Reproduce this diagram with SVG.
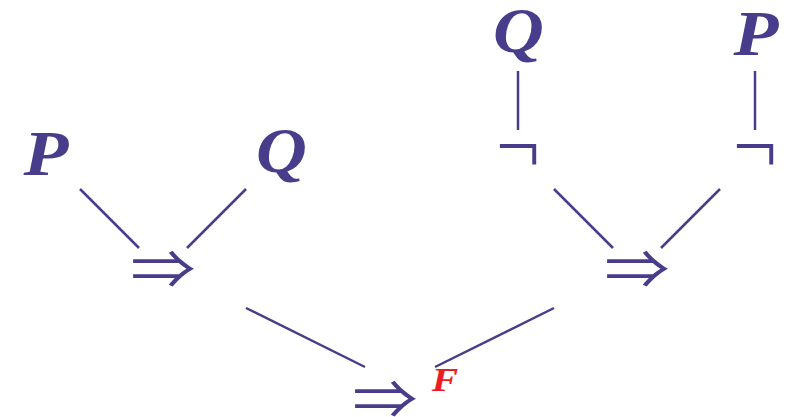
<svg xmlns="http://www.w3.org/2000/svg" width="792" height="417" viewBox="0 0 792 417">
<style>
.v{font-family:"Liberation Serif","DejaVu Serif",serif;font-weight:bold;font-style:italic;font-size:64px;fill:#483D8B;text-anchor:middle}
.imp{font-family:"Noto Sans CJK JP","DejaVu Sans",sans-serif;font-size:65px;fill:#483D8B;text-anchor:middle}
.neg{font-family:"Liberation Serif",serif;font-size:78px;fill:#483D8B;text-anchor:middle}
.f{font-family:"Liberation Serif",serif;font-weight:bold;font-style:italic;font-size:33px;fill:#ED1C24;text-anchor:middle}
.c line{stroke:#483D8B;stroke-width:2.5}
</style>
<rect width="792" height="417" fill="#fff"/>
<g class="c" id="connectors">
<line x1="80" y1="189" x2="139" y2="248"/>
<line x1="246" y1="189" x2="187" y2="248"/>
<line x1="518" y1="71" x2="518" y2="130"/>
<line x1="755" y1="71" x2="755" y2="130"/>
<line x1="554" y1="189" x2="613" y2="248"/>
<line x1="720" y1="189" x2="661" y2="248"/>
<line x1="246" y1="308" x2="365" y2="367"/>
<line x1="554" y1="308" x2="435" y2="367"/>
</g>
<g id="p1"><text class="v" transform="translate(46,175) scale(1.15,1)">P</text></g>
<g id="q1"><text class="v" transform="translate(281.5,172) scale(1.1,1)">Q</text></g>
<g id="imp1"><text class="imp" transform="translate(163,269) scale(1,0.82)" y="24.6">⇒</text></g>
<g id="q2"><text class="v" transform="translate(518.5,52) scale(1.1,1)">Q</text></g>
<g id="neg1"><text class="neg" x="518" y="172">¬</text></g>
<g id="p2"><text class="v" transform="translate(756,55) scale(1.15,1)">P</text></g>
<g id="neg2"><text class="neg" x="755" y="172">¬</text></g>
<g id="imp2"><text class="imp" transform="translate(637,269) scale(1,0.82)" y="24.6">⇒</text></g>
<g id="imp3"><text class="imp" transform="translate(385,399) scale(1,0.82)" y="24.6">⇒</text></g>
<g id="f"><text class="f" transform="translate(445,391) scale(1.2,1)">F</text></g>
</svg>
